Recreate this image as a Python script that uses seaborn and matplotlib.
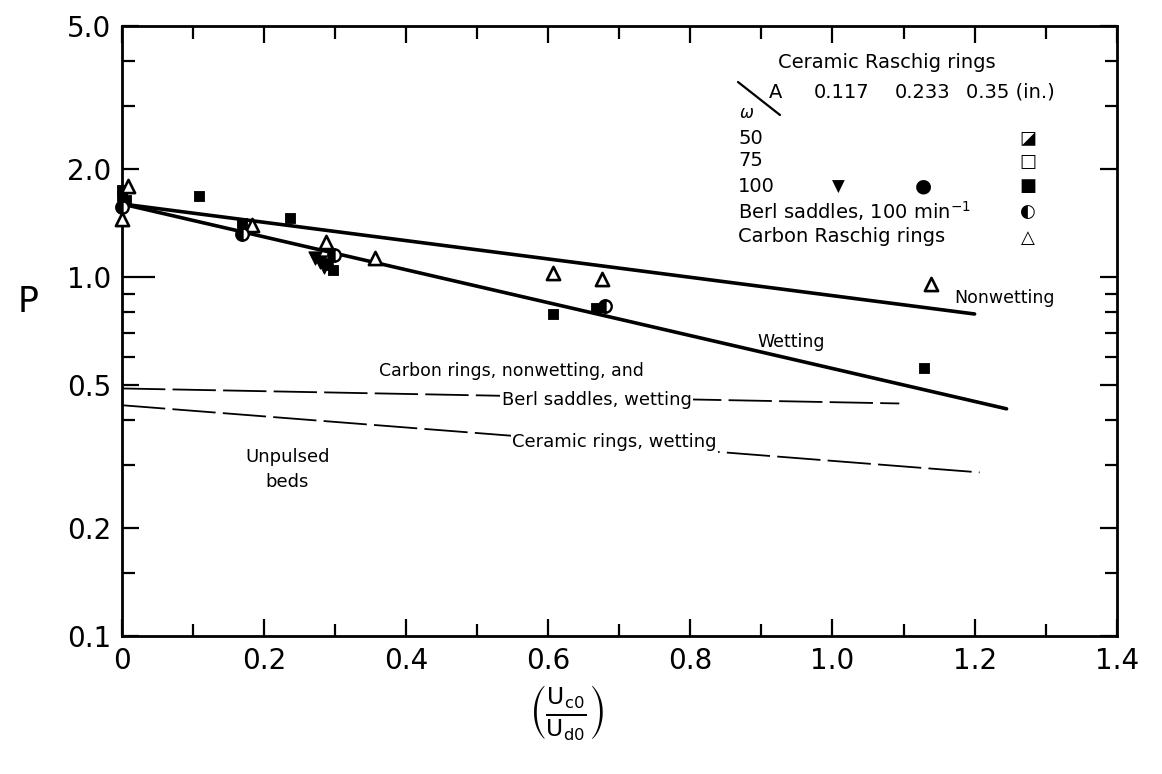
import numpy as np
import matplotlib
matplotlib.use("Agg")
import matplotlib.pyplot as plt
import seaborn as sns
from matplotlib.lines import Line2D
from matplotlib.ticker import FixedLocator, NullFormatter

# Data (x = Uc0/Ud0, P on log scale)
sq_x = [0.0, 0.0, 0.006, 0.108, 0.169, 0.236, 0.297, 0.606, 0.667, 1.129]
sq_p = [1.75, 1.68, 1.64, 1.68, 1.42, 1.46, 1.05, 0.79, 0.82, 0.56]

tri_x = [0.0, 0.008, 0.183, 0.287, 0.356, 0.606, 0.676, 1.139]
tri_p = [1.45, 1.79, 1.40, 1.25, 1.13, 1.03, 0.99, 0.955]

berl_x = [0.0, 0.169, 0.298, 0.68]
berl_p = [1.57, 1.32, 1.15, 0.83]

dtri_x = [0.272, 0.278, 0.284]
dtri_p = [1.13, 1.10, 1.07]

circ_x = [0.288]
circ_p = [1.09]

# Correlation lines
nonwet_x = [0.0, 1.20]
nonwet_p = [1.60, 0.79]
wet_x = [0.0, 1.245]
wet_p = [1.60, 0.43]
carbon_x = [0.0, 1.094]
carbon_p = [0.49, 0.445]
ceramic_x = [0.0, 1.207]
ceramic_p = [0.44, 0.286]

x_ticks = [0.0, 0.2, 0.4, 0.6, 0.8, 1.0, 1.2, 1.4]
x_labels = ["0", "0.2", "0.4", "0.6", "0.8", "1.0", "1.2", "1.4"]
y_ticks = [0.1, 0.2, 0.5, 1.0, 2.0, 5.0]
y_labels = ["0.1", "0.2", "0.5", "1.0", "2.0", "5.0"]
y_minor = [0.15, 0.3, 0.4, 0.6, 0.7, 0.8, 0.9, 3.0, 4.0]

sns.set_style("ticks")
plt.rcParams['font.family'] = ['DejaVu Sans']
plt.rcParams['text.color'] = 'black'
plt.rcParams['axes.edgecolor'] = 'black'
plt.rcParams['xtick.color'] = 'black'
plt.rcParams['ytick.color'] = 'black'

fig, ax = plt.subplots(figsize=(11.62, 7.74), dpi=100)
fig.subplots_adjust(left=0.105, right=0.961, top=0.966, bottom=0.178)

# Lines
sns.lineplot(x=nonwet_x, y=nonwet_p, color="black", linewidth=2.6, ax=ax)
sns.lineplot(x=wet_x, y=wet_p, color="black", linewidth=2.6, ax=ax)
sns.lineplot(x=carbon_x, y=carbon_p, color="black", linewidth=1.3,
             linestyle=(0, (24, 4)), ax=ax)
sns.lineplot(x=ceramic_x, y=ceramic_p, color="black", linewidth=1.3,
             linestyle=(0, (24, 4)), ax=ax)

# Points
sns.scatterplot(x=sq_x, y=sq_p, marker="s", color="black", edgecolor="black",
                s=60, clip_on=False, zorder=5, ax=ax)
sns.scatterplot(x=tri_x, y=tri_p, marker="^", color="white", edgecolor="black",
                linewidth=1.9, s=90, clip_on=False, zorder=5, ax=ax)
sns.scatterplot(x=dtri_x, y=dtri_p, marker="v", color="black", edgecolor="black",
                s=90, clip_on=False, zorder=5, ax=ax)
sns.scatterplot(x=circ_x, y=circ_p, marker="o", color="black", edgecolor="black",
                s=70, clip_on=False, zorder=5, ax=ax)
ax.plot(berl_x, berl_p, "o", ls="none", fillstyle="left", color="black",
        markerfacecoloralt="white", ms=9, mew=1.7, clip_on=False, zorder=6)

# Axes
ax.set_yscale("log")
ax.set_xlim(0, 1.4)
ax.set_ylim(0.1, 5.0)
ax.set_xticks(x_ticks)
ax.set_xticklabels(x_labels)
ax.xaxis.set_minor_locator(FixedLocator(np.arange(0.1, 1.4, 0.2)))
ax.yaxis.set_major_locator(FixedLocator(y_ticks))
ax.set_yticklabels(y_labels)
ax.yaxis.set_minor_locator(FixedLocator(y_minor))
ax.yaxis.set_minor_formatter(NullFormatter())
ax.tick_params(which="both", direction="in", top=True, right=True,
               width=1.6, labelsize=20, pad=8)
ax.tick_params(which="major", length=12)
ax.tick_params(which="minor", length=9)
# the 1.0 tick is drawn longer in the original
ax.yaxis.get_major_ticks()[3].tick1line.set_markersize(24)
for s in ax.spines.values():
    s.set_linewidth(2.0)
ax.set_xlabel("")
ax.set_ylabel("")

fig.text(18 / 1162, 1 - 302 / 774, "P", fontsize=25, ha="left", va="center")
fig.text(567 / 1162, 1 - 712 / 774,
         r"$\left(\frac{\mathrm{U_{c0}}}{\mathrm{U_{d0}}}\right)$",
         fontsize=24, ha="center", va="center")

# Curve annotations
ax.text(1.172, 0.873, "Nonwetting", fontsize=12.5, ha="left", va="center")
ax.text(0.942, 0.662, "Wetting", fontsize=12.5, ha="center", va="center")
ax.text(0.548, 0.549, "Carbon rings, nonwetting, and", fontsize=12.5,
        ha="center", va="center")
ax.text(0.668, 0.455, "Berl saddles, wetting", fontsize=13, ha="center",
        va="center", bbox=dict(facecolor="white", edgecolor="none", pad=1))
ax.text(0.693, 0.347, "Ceramic rings, wetting", fontsize=13, ha="center",
        va="center", bbox=dict(facecolor="white", edgecolor="none", pad=1))
ax.text(0.233, 0.292, "Unpulsed\nbeds", fontsize=13, ha="center",
        va="center", linespacing=1.5)

# Legend table
def fx(px):
    return px / 1162

def fy(py):
    return 1 - py / 774

lfs = 14
fig.text(fx(778), fy(63), "Ceramic Raschig rings", fontsize=lfs, va="center")
fig.text(fx(776), fy(92), "A", fontsize=lfs, ha="center", va="center")
fig.text(fx(842), fy(92), "0.117", fontsize=lfs, ha="center", va="center")
fig.text(fx(923), fy(92), "0.233", fontsize=lfs, ha="center", va="center")
fig.text(fx(966), fy(92), "0.35 (in.)", fontsize=lfs, ha="left", va="center")
fig.text(fx(747), fy(113), r"$\omega$", fontsize=12, ha="center", va="center")
fig.add_artist(Line2D([fx(738), fx(780)], [fy(82), fy(115)], color="black",
                      linewidth=1.6))

rows = ["50", "75", "100", r"Berl saddles, 100 min$^{-1}$", "Carbon Raschig rings"]
row_y = [138, 161, 186, 211, 236]
for lab, py in zip(rows, row_y):
    fig.text(fx(738), fy(py), lab, fontsize=lfs, ha="left", va="center")

fig.text(fx(838), fy(187), "\u25BC", fontsize=12, ha="center", va="center")
fig.text(fx(923), fy(186), "\u25CF", fontsize=14, ha="center", va="center")
col3 = ["\u25EA", "\u25A1", "\u25A0", "\u25D0", "\u25B3"]
col3_y = [138, 162, 186, 212, 238]
for g, py in zip(col3, col3_y):
    fig.text(fx(1028), fy(py), g, fontsize=13, ha="center", va="center")

plt.savefig("out.png", dpi=100)
plt.close()
